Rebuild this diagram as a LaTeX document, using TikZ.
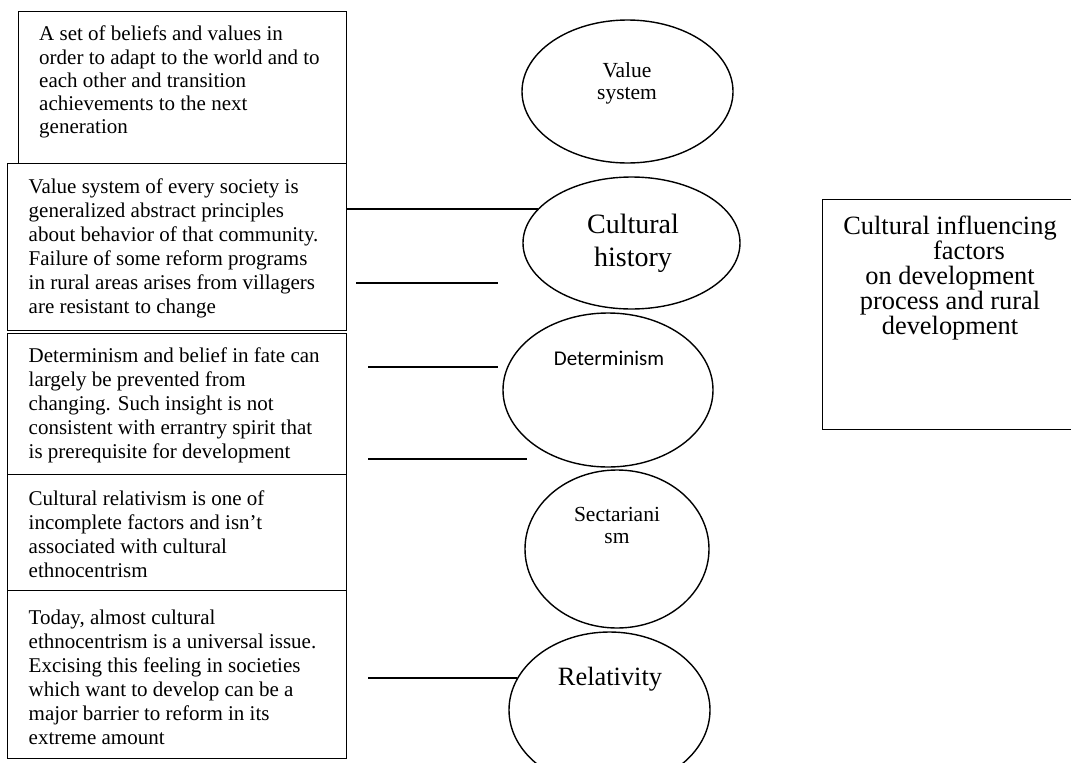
\documentclass[tikz,border=0pt]{standalone}
\usepackage{fontspec}
\setmainfont{Liberation Serif}
\newfontfamily\detfont{Carlito}
\usetikzlibrary{shapes.geometric}
\newcommand\firstrule[1]{\rule{0pt}{#1pt}}
\begin{document}
\begin{tikzpicture}[x=1pt,y=-1pt,
  lw/.style={line width=1.4pt},
  tbox/.style={draw, lw, rectangle, inner sep=0pt, anchor=north west},
  ell/.style={draw, lw, ellipse, inner sep=0pt},
  btext/.style={inner sep=0pt, anchor=north west, align=left, font=\fontsize{21}{24}\selectfont},
  etext/.style={inner sep=0pt, anchor=north, align=center},
  conn/.style={lw}]
\path[use as bounding box, fill=white] (0,0) rectangle (1071,763);

% left boxes
\node[tbox, minimum width=328pt, minimum height=152pt] (b1) at (18,11) {};
\node[tbox, minimum width=339pt, minimum height=167pt] (b2) at (7,163) {};
\node[tbox, minimum width=339pt, minimum height=141pt] (b3) at (7,333) {};
\node[tbox, minimum width=339pt, minimum height=116pt] (b4) at (7,474) {};
\node[tbox, minimum width=339pt, minimum height=168pt] (b5) at (7,590) {};

\node[btext, font=\fontsize{21}{23.1}\selectfont] (t1) at (39,20.7) {\firstrule{20}A set of beliefs and values in\\order to adapt to the world and to\\each other and transition\\achievements to the next\\generation};
\node[btext] (t2) at (28.5,173) {\firstrule{20}Value system of every society is\\generalized abstract principles\\about behavior of that community.\\Failure of some reform programs\\in rural areas arises from villagers\\are resistant to change};
\node[btext] (t3) at (28.5,342) {\firstrule{20}Determinism and belief in fate can\\largely be prevented from\\changing. Such insight is not\\consistent with errantry spirit that\\is prerequisite for development};
\node[btext] (t4) at (28.5,485.5) {\firstrule{20}Cultural relativism is one of\\incomplete factors and isn’t\\associated with cultural\\ethnocentrism};
\node[btext] (t5) at (28.5,604) {\firstrule{20}Today, almost cultural\\ethnocentrism is a universal issue.\\Excising this feeling in societies\\which want to develop can be a\\major barrier to reform in its\\extreme amount};

% ellipses
\node[ell, minimum width=211pt, minimum height=143pt] (vs) at (627.5,91.5) {};
\node[ell, minimum width=217pt, minimum height=132pt] (ch) at (631.5,243) {};
\node[ell, minimum width=210pt, minimum height=154pt] (de) at (608,390) {};
\node[ell, minimum width=184pt, minimum height=158pt] (se) at (617,549) {};
\node[ell, minimum width=201pt, minimum height=156pt] (re) at (609.5,710) {};

\node[etext, font=\fontsize{21.5}{22}\selectfont] (vst) at (627,57) {\firstrule{20}Value\\system};
\node[etext, font=\fontsize{28}{33}\selectfont] (cht) at (633,211) {\firstrule{22}Cultural\\history};
\node[inner sep=0pt, anchor=base, font=\detfont\fontsize{21}{24}\selectfont] (det) at (609,365) {Determinism};
\node[etext, font=\fontsize{21.5}{22}\selectfont] (set) at (617,501) {\firstrule{20}Sectariani\\sm};
\node[inner sep=0pt, anchor=base, font=\fontsize{26.4}{30}\selectfont] (ret) at (610,685) {Relativity};

% right box
\node[tbox, minimum width=256pt, minimum height=230pt] (rb) at (822,199) {};
\node[etext, font=\fontsize{26.4}{25}\selectfont] (rbt) at (950,212) {\firstrule{22}Cultural influencing\\\hspace*{38pt}factors\\on development\\process and rural\\development};

% connectors
\draw[conn] (b2.east |- ch.160) -- (ch.160);
\coordinate (l2a) at (356,283);
\coordinate (l2b) at (498,283);
\draw[conn] (l2a) -- (l2b);
\coordinate (l3a) at (368,367);
\coordinate (l3b) at (498,367);
\draw[conn] (l3a) -- (l3b);
\coordinate (l4a) at (368,459);
\coordinate (l4b) at (527,459);
\draw[conn] (l4a) -- (l4b);
\coordinate (l5a) at (368,678);
\draw[conn] (l5a |- re.161) -- (re.161);
\end{tikzpicture}
\end{document}
